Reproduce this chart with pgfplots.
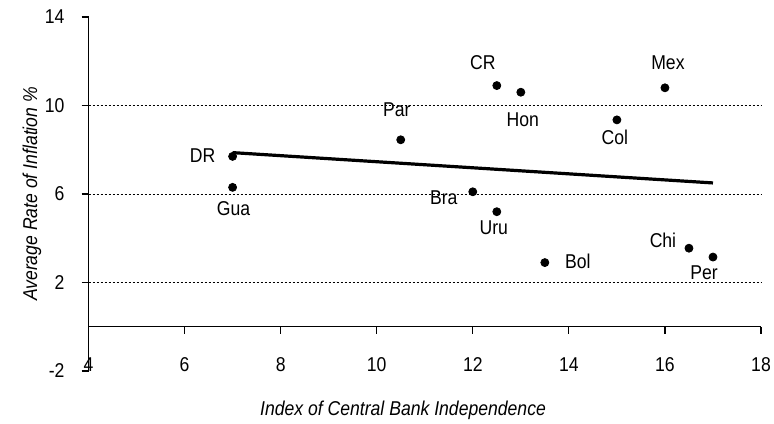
\documentclass[border=0pt]{standalone}
\usepackage{pgfplots}
\pgfplotsset{compat=1.18}
\usepackage{pgfplotstable}
\usepackage{fontspec}
\setmainfont{Liberation Sans}[FakeStretch=0.88]
\pgfplotstableread{
x y label dx dy
7 7.7 DR -15 0.5
7 6.3 Gua 0.5 -10.5
10.5 8.45 Par -2 15
12.5 10.9 CR -7 11.5
13 10.6 Hon 1 -13.5
16 10.8 Mex 1.5 12.5
15 9.35 Col -1 -8.5
12 6.1 Bra -14.5 -3
12.5 5.2 Uru -1.5 -8
13.5 2.9 Bol 16.5 0.5
16.5 3.55 Chi -13 4
17 3.15 Per -4.5 -8
}\pts
\begin{document}
\begin{tikzpicture}
\useasboundingbox (-44.25pt,-26pt) rectangle ++(387pt,211.5pt);
\begin{axis}[
  at={(0pt,0pt)}, anchor=south west,
  scale only axis, width=336.25pt, height=177pt,
  xmin=4, xmax=18, ymin=-2, ymax=14,
  axis x line=middle, axis y line=left,
  axis line style={-, line width=0.6pt, black},
  hide obscured x ticks=false,
  xtick={4,6,...,18}, ytick={-2,14},
  extra y ticks={2,6,10},
  extra y tick style={grid=major},
  grid style={dash pattern=on 1pt off 1pt, black, line width=0.45pt},
  tick align=outside, major tick length=3.5pt,
  tick style={black, line width=0.6pt},
  /pgf/number format/assume math mode=true,
  ticklabel style={font=\fontsize{10}{12}\selectfont},
  xticklabel style={anchor=center, yshift=-15.5pt},
  yticklabel style={xshift=-5pt},
  xlabel={\itshape Index of Central Bank Independence},
  ylabel={\itshape Average Rate of Inflation \%},
  xlabel style={at={(axis description cs:0.4677,-0.110)}, anchor=center, font=\fontsize{10}{12}\selectfont},
  ylabel style={at={(axis description cs:-0.084,0.5)}, anchor=center, font=\fontsize{10}{12}\selectfont},
  clip=false,
]
\addplot[black, line width=1.6pt] coordinates {(7,7.87) (17,6.5)};
\addplot[only marks, mark=*, mark size=2pt, black,
  visualization depends on={\thisrow{dx} \as \dx},
  visualization depends on={\thisrow{dy} \as \dy},
  point meta=explicit symbolic,
  nodes near coords,
  nodes near coords style={anchor=center, inner sep=0pt, font=\fontsize{10}{12}\selectfont, xshift=\dx pt, yshift=\dy pt},
] table[x=x, y=y, meta=label] {\pts};
\end{axis}
\end{tikzpicture}
\end{document}
